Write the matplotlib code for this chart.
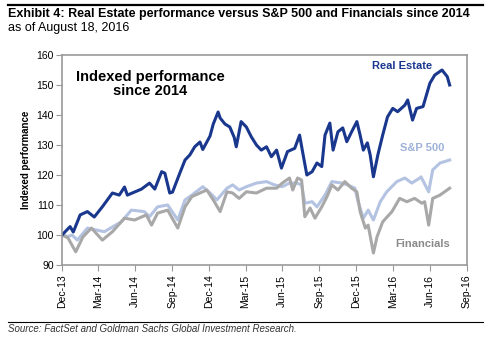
import numpy as np
import pandas as pd
import matplotlib
matplotlib.use("Agg")
import matplotlib.pyplot as plt

plt.rcParams['font.family'] = ['Liberation Sans', 'DejaVu Sans']

# values
re_dates = ['2013-12-31', '2014-01-20', '2014-01-28', '2014-02-14', '2014-03-04', '2014-03-21',
            '2014-04-10', '2014-05-05', '2014-05-22', '2014-06-04', '2014-06-11', '2014-07-16',
            '2014-08-05', '2014-08-18', '2014-09-04', '2014-09-12', '2014-09-24', '2014-10-01',
            '2014-10-19', '2014-11-01', '2014-11-13', '2014-11-25', '2014-12-08', '2014-12-15',
            '2015-01-02', '2015-01-10', '2015-01-22', '2015-01-27', '2015-02-08', '2015-02-20',
            '2015-03-03', '2015-03-08', '2015-03-20', '2015-04-02', '2015-04-14', '2015-04-27',
            '2015-05-09', '2015-05-22', '2015-06-03', '2015-06-16', '2015-06-28', '2015-07-13',
            '2015-07-31', '2015-08-12', '2015-08-20', '2015-08-30', '2015-09-12', '2015-09-24',
            '2015-10-06', '2015-10-14', '2015-10-26', '2015-11-03', '2015-11-15', '2015-11-27',
            '2015-12-07', '2015-12-19', '2016-01-01', '2016-01-09', '2016-01-17', '2016-01-27',
            '2016-02-03', '2016-02-11', '2016-02-22', '2016-03-05', '2016-03-17', '2016-03-30',
            '2016-04-11', '2016-04-29', '2016-05-06', '2016-05-18', '2016-05-28', '2016-06-13',
            '2016-06-30', '2016-07-12', '2016-07-30', '2016-08-12', '2016-08-18']
re_vals = [100, 102.8, 101.0, 106.7, 107.8, 106.0,
           109.4, 114.0, 113.3, 116.0, 113.3, 115.3,
           117.3, 115.3, 121.1, 120.6, 114.0, 114.3,
           120.6, 125.0, 126.7, 129.4, 131.0, 128.5,
           133.0, 137.0, 141.0, 139.0, 137.0, 136.0,
           132.5, 129.4, 137.8, 136.0, 132.8, 130.0,
           128.3, 129.4, 126.1, 128.3, 122.3, 127.8,
           128.9, 133.3, 127.3, 120.0, 121.1, 124.0,
           122.8, 133.3, 137.3, 128.3, 134.4, 135.7,
           131.1, 134.4, 137.8, 133.3, 128.3, 130.7,
           126.7, 119.4, 126.7, 133.3, 139.4, 142.2,
           141.1, 143.3, 145.0, 138.3, 142.2, 142.8,
           150.6, 153.3, 155.0, 152.8, 150.0]

sp_dates = ['2013-12-31', '2014-01-15', '2014-01-25', '2014-02-07', '2014-03-04', '2014-04-15',
            '2014-05-27', '2014-06-21', '2014-07-23', '2014-08-05', '2014-08-25', '2014-09-19',
            '2014-10-14', '2014-11-01', '2014-11-18', '2014-12-15', '2015-01-02', '2015-01-19',
            '2015-02-13', '2015-02-27', '2015-03-15', '2015-04-02', '2015-04-27', '2015-05-22',
            '2015-06-11', '2015-06-30', '2015-07-18', '2015-08-05', '2015-08-17', '2015-08-25',
            '2015-09-12', '2015-09-24', '2015-10-14', '2015-10-31', '2015-11-25', '2015-12-09',
            '2015-12-27', '2016-01-04', '2016-01-17', '2016-01-29', '2016-02-11', '2016-02-28',
            '2016-03-15', '2016-04-09', '2016-04-29', '2016-05-16', '2016-06-05', '2016-06-08',
            '2016-06-27', '2016-07-07', '2016-07-25', '2016-08-18']
sp_vals = [100, 99.5, 100.0, 98.3, 102.3, 101.1,
           104.4, 108.3, 107.8, 106.1, 109.4, 110.0,
           105.0, 111.7, 113.3, 116.1, 114.0, 111.7,
           115.6, 116.7, 115.0, 116.1, 117.3, 117.8,
           116.7, 116.1, 117.3, 117.3, 116.7, 110.6,
           111.1, 109.4, 113.3, 117.8, 117.3, 116.7,
           115.6, 111.1, 105.6, 108.3, 105.0, 111.1,
           114.4, 117.8, 119.0, 117.3, 119.0, 119.4,
           114.4, 121.7, 124.0, 125.0]

fin_dates = ['2013-12-31', '2014-01-15', '2014-02-03', '2014-02-21', '2014-03-14', '2014-04-10',
             '2014-05-05', '2014-06-04', '2014-06-29', '2014-07-28', '2014-08-10', '2014-08-25',
             '2014-09-19', '2014-10-14', '2014-11-01', '2014-11-18', '2014-12-08', '2014-12-25',
             '2015-01-10', '2015-01-27', '2015-02-13', '2015-02-27', '2015-03-15', '2015-04-02',
             '2015-04-27', '2015-05-22', '2015-06-16', '2015-06-30', '2015-07-18', '2015-07-26',
             '2015-08-07', '2015-08-17', '2015-08-25', '2015-09-07', '2015-09-19', '2015-10-06',
             '2015-10-19', '2015-10-31', '2015-11-15', '2015-12-02', '2015-12-19', '2016-01-01',
             '2016-01-09', '2016-01-22', '2016-01-29', '2016-02-11', '2016-02-20', '2016-03-05',
             '2016-03-28', '2016-04-16', '2016-05-04', '2016-05-23', '2016-06-10', '2016-06-17',
             '2016-06-27', '2016-07-07', '2016-07-25', '2016-08-18']
fin_vals = [100, 99.0, 94.4, 99.4, 102.3, 98.3,
            101.1, 105.6, 105.0, 106.7, 103.3, 107.3,
            108.3, 102.3, 109.4, 112.8, 114.0, 115.0,
            111.7, 107.8, 114.4, 114.0, 112.2, 114.4,
            114.0, 115.6, 115.6, 117.3, 119.0, 115.0,
            119.0, 118.3, 106.1, 109.0, 105.6, 109.4,
            112.8, 116.7, 115.0, 117.8, 115.6, 114.4,
            107.8, 102.3, 103.3, 94.0, 99.4, 104.4,
            107.8, 112.2, 111.1, 112.2, 110.6, 111.1,
            103.3, 112.2, 113.3, 115.6]

tick_labels = ['Dec-13', 'Mar-14', 'Jun-14', 'Sep-14', 'Dec-14', 'Mar-15', 'Jun-15',
               'Sep-15', 'Dec-15', 'Mar-16', 'Jun-16', 'Sep-16']

navy = '#1a378e'
light = '#b4c3e2'
grey = '#a8a8a8'

fig = plt.figure(figsize=(4.88, 3.40), dpi=100)
ax = fig.add_axes([62/488, 1 - 265/340, (467 - 62)/488, (265 - 55)/340])

ax.plot(pd.to_datetime(sp_dates), sp_vals, color=light, lw=2.2, solid_joinstyle='round')
ax.plot(pd.to_datetime(fin_dates), fin_vals, color=grey, lw=2.2, solid_joinstyle='round')
ax.plot(pd.to_datetime(re_dates), re_vals, color=navy, lw=2.2, solid_joinstyle='round')

ticks = pd.to_datetime(tick_labels, format='%b-%y') + pd.offsets.MonthEnd(0)
ax.set_xticks(ticks)
ax.set_xticklabels(tick_labels, rotation=90, fontsize=7.5)
ax.set_xlim(ticks[0], ticks[-1])
ax.set_ylim(90, 160)
ax.set_yticks(np.arange(90, 161, 10))
ax.tick_params(axis='y', labelsize=7.5, length=4, color='#999999', pad=2)
ax.tick_params(axis='x', length=4, color='#999999', pad=3)
for s in ax.spines.values():
    s.set_color('#999999')
    s.set_linewidth(1.2)
ax.set_ylabel('Indexed performance', fontsize=7, fontweight='bold', labelpad=4)

ax.text(0.218, 0.93, 'Indexed performance\nsince 2014', transform=ax.transAxes,
        ha='center', va='top', fontsize=10.5, fontweight='bold', linespacing=1.05)
ax.text(pd.Timestamp('2016-04-22'), 156.3, 'Real Estate', color=navy, fontsize=8,
        fontweight='bold', ha='center', va='center')
ax.text(pd.Timestamp('2016-06-11'), 129.0, 'S&P 500', color='#9eb1d8', fontsize=8,
        fontweight='bold', ha='center', va='center')
ax.text(pd.Timestamp('2016-06-11'), 97.0, 'Financials', color='#8a8a8a', fontsize=8,
        fontweight='bold', ha='center', va='center')

fig.add_artist(plt.Line2D([8/488, 483/488], [1 - 5/340, 1 - 5/340], color='black', lw=1.6))
fig.text(8/488, 1 - 13.5/340, 'Exhibit 4: Real Estate performance versus S&P 500 and Financials since 2014',
         fontsize=9, fontweight='bold', va='center', ha='left')
fig.text(8/488, 1 - 28/340, 'as of August 18, 2016', fontsize=9, va='center', ha='left')
fig.add_artist(plt.Line2D([8/488, 483/488], [1 - 322/340, 1 - 322/340], color='black', lw=0.8))
fig.text(8/488, 1 - 329/340, 'Source: FactSet and Goldman Sachs Global Investment Research.',
         fontsize=7, style='italic', va='center', ha='left', color='#333333')

fig.savefig('out.png', dpi=100)
